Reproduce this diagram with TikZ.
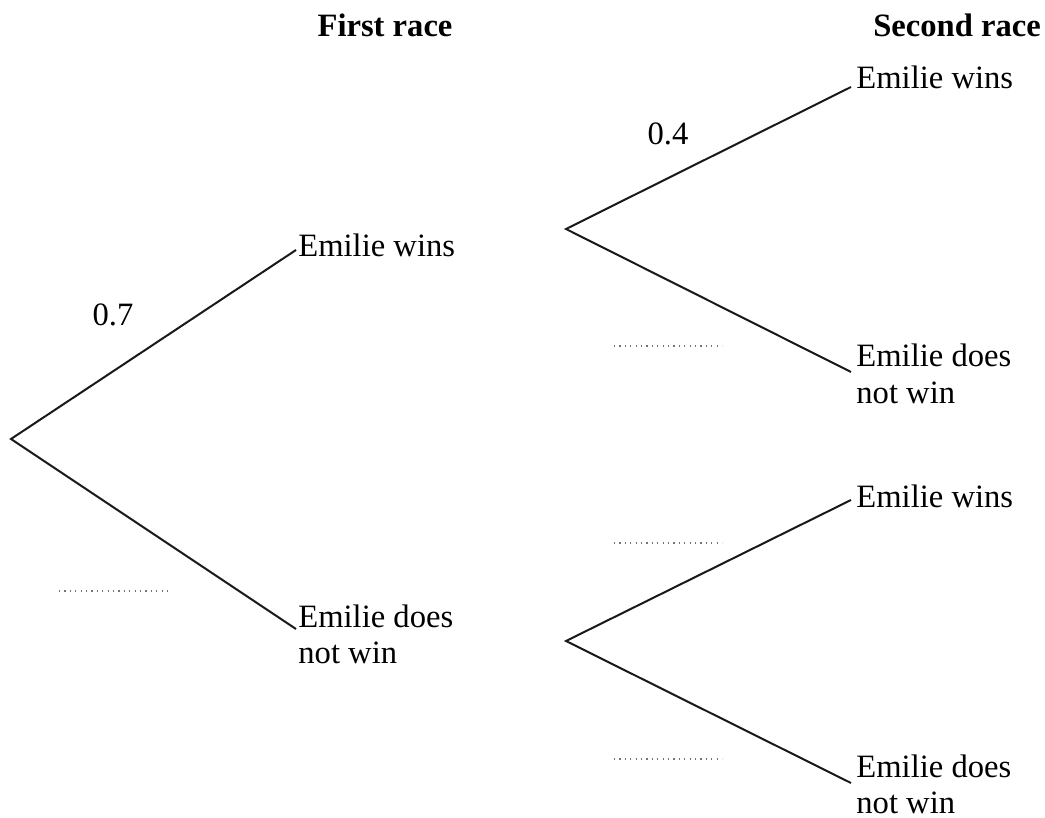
\documentclass[tikz,border=0pt]{standalone}
\usepackage{fontspec}
\setmainfont{Liberation Serif}
\begin{document}
\begin{tikzpicture}[x=0.5pt,y=-0.5pt,
  branch/.style={line width=1pt,black!90},
  blank/.style={line width=0.8pt,black!55,dash pattern=on 0.6pt off 2.1pt},
  lbl/.style={font=\fontsize{16.3}{18}\selectfont,inner sep=0pt,anchor=base west,align=left},
  prob/.style={font=\fontsize{16.3}{18}\selectfont,inner sep=0pt},
  head/.style={font=\fontsize{16.3}{18}\selectfont\bfseries,inner sep=0pt}]
\useasboundingbox (0,0) rectangle (1045,818);
% headings
\node[head] (h1) at (385,25) {First race};
\node[head] (h2) at (957,25) {Second race};
% points
\coordinate (r) at (11,439);
\coordinate (a) at (296,250);
\coordinate (b) at (296,629);
\coordinate (a0) at (566,229);
\coordinate (b0) at (566,641);
\coordinate (aa) at (851,87);
\coordinate (ab) at (851,372);
\coordinate (ba) at (851,500);
\coordinate (bb) at (851,783);
% branches
\draw[branch] (a) -- (r) -- (b);
\draw[branch] (aa) -- (a0) -- (ab);
\draw[branch] (ba) -- (b0) -- (bb);
% labels (base = last baseline)
\node[lbl] (la) at (298,257) {Emilie wins};
\node[lbl] (lb) at (298,663) {Emilie does\\not win};
\node[lbl] (laa) at (856,89) {Emilie wins};
\node[lbl] (lab) at (856,403) {Emilie does\\not win};
\node[lbl] (lba) at (856,507) {Emilie wins};
\node[lbl] (lbb) at (856,813) {Emilie does\\not win};
% probabilities
\node[prob] (p1) at (113,315) {0.7};
\node[prob] (p2) at (668,134) {0.4};
% blanks
\coordinate (d1s) at (59,591); \coordinate (d1e) at (168,591);
\coordinate (d2s) at (614,346); \coordinate (d2e) at (722,346);
\coordinate (d3s) at (614,543); \coordinate (d3e) at (722,543);
\coordinate (d4s) at (614,759); \coordinate (d4e) at (722,759);
\draw[blank] (d1s) -- (d1e);
\draw[blank] (d2s) -- (d2e);
\draw[blank] (d3s) -- (d3e);
\draw[blank] (d4s) -- (d4e);
\end{tikzpicture}
\end{document}
